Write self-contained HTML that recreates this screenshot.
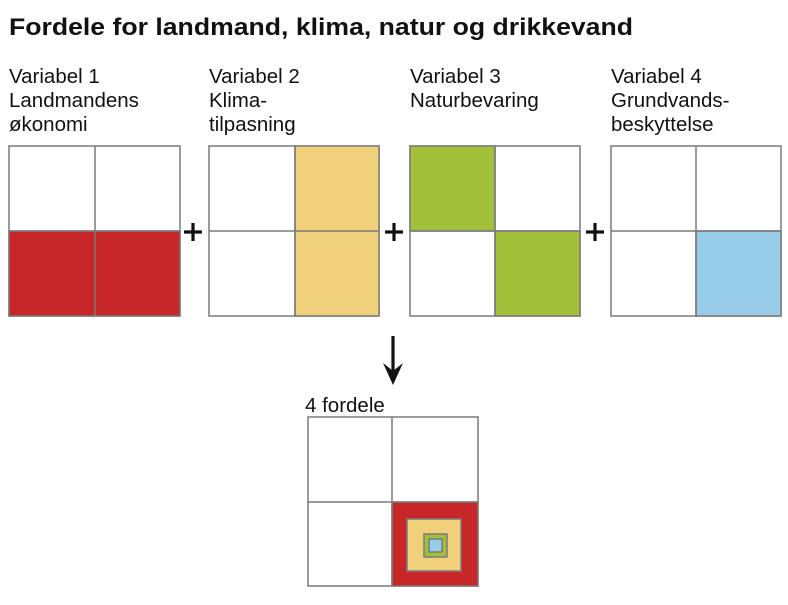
<!DOCTYPE html>
<html><head><meta charset="utf-8"><style>
body{margin:0;background:#fff;width:788px;height:600px;overflow:hidden}
text{font-family:"Liberation Sans",Arial,sans-serif;fill:#111}
</style></head><body>
<svg width="788" height="600" xmlns="http://www.w3.org/2000/svg">
<text x="9" y="35" font-size="24.5" font-weight="bold" textLength="624" lengthAdjust="spacingAndGlyphs">Fordele for landmand, klima, natur og drikkevand</text>
<g font-size="20.5">
<text x="9" y="83">Variabel 1</text><text x="9" y="107">Landmandens</text><text x="9" y="131">økonomi</text>
<text x="209" y="83">Variabel 2</text><text x="209" y="107">Klima-</text><text x="209" y="131">tilpasning</text>
<text x="410" y="83">Variabel 3</text><text x="410" y="107">Naturbevaring</text>
<text x="611" y="83">Variabel 4</text><text x="611" y="107">Grundvands-</text><text x="611" y="131">beskyttelse</text>
<text x="305" y="412">4 fordele</text>
</g>
<g stroke="#7a7a7a" stroke-width="1.5">
<rect x="9" y="146" width="171" height="170" fill="#fff"/>
<rect x="9" y="231" width="171" height="85" fill="#c8272a"/>
<line x1="95" y1="146" x2="95" y2="316"/><line x1="9" y1="231" x2="180" y2="231"/>
<rect x="209" y="146" width="170" height="170" fill="#fff"/>
<rect x="295" y="146" width="84" height="170" fill="#f0d07a"/>
<line x1="295" y1="146" x2="295" y2="316"/><line x1="209" y1="231" x2="379" y2="231"/>
<rect x="410" y="146" width="170" height="170" fill="#fff"/>
<rect x="410" y="146" width="85" height="85" fill="#a2c03a"/>
<rect x="495" y="231" width="85" height="85" fill="#a2c03a"/>
<line x1="495" y1="146" x2="495" y2="316"/><line x1="410" y1="231" x2="580" y2="231"/>
<rect x="611" y="146" width="170" height="170" fill="#fff"/>
<rect x="696" y="231" width="85" height="85" fill="#98cde9"/>
<line x1="696" y1="146" x2="696" y2="316"/><line x1="611" y1="231" x2="781" y2="231"/>
<rect x="308" y="417" width="170" height="169" fill="#fff"/>
<rect x="392" y="502" width="86" height="84" fill="#c8272a"/>
<line x1="392" y1="417" x2="392" y2="586"/><line x1="308" y1="502" x2="478" y2="502"/>
<rect x="407" y="519" width="54" height="52" fill="#f0d07a"/>
<rect x="424" y="534" width="23" height="23" fill="#a2c03a"/>
<rect x="429" y="539" width="13" height="13" fill="#98cde9"/>
</g>
<g stroke="#111" stroke-width="3.2">
<line x1="184" y1="232" x2="202" y2="232"/><line x1="193" y1="223" x2="193" y2="241"/>
<line x1="385" y1="232" x2="403" y2="232"/><line x1="394" y1="223" x2="394" y2="241"/>
<line x1="586" y1="232" x2="604" y2="232"/><line x1="595" y1="223" x2="595" y2="241"/>
<line x1="393" y1="336" x2="393" y2="375"/>
</g>
<polygon points="383,363 393,385 403,363 393,371" fill="#111"/>
</svg>
</body></html>
